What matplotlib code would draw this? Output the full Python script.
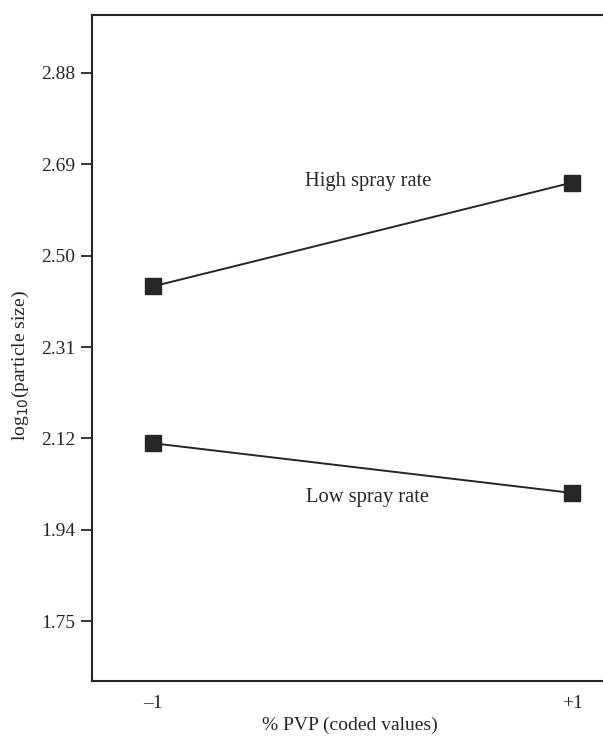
import numpy as np
import matplotlib
matplotlib.use("Agg")
import matplotlib.pyplot as plt
from matplotlib.ticker import FixedLocator, FixedFormatter

# Data
pvp = [-1, 1]
high_rate = [2.437, 2.650]
low_rate = [2.115, 2.013]

yticks = [1.75, 1.9375, 2.125, 2.3125, 2.5, 2.6875, 2.875]
ytick_labels = ["1.75", "1.94", "2.12", "2.31", "2.50", "2.69", "2.88"]
xtick_labels = ["\u20131", "+1"]

plt.rcParams["font.family"] = ["Liberation Serif", "DejaVu Serif"]
plt.rcParams["font.size"] = 14

fig = plt.figure(figsize=(6.03, 7.37), dpi=100)
ax = fig.add_axes([92 / 603, 1 - 681 / 737, 1 - 92 / 603, (681 - 15) / 737])

ink = "#262626"
ax.plot(pvp, high_rate, ls="-", color=ink, lw=1.4, marker="s", ms=11.5, mec=ink, mfc=ink)
ax.plot(pvp, low_rate, ls="-", color=ink, lw=1.4, marker="s", ms=11.5, mec=ink, mfc=ink)

ax.text(0.026, 2.652, "High spray rate", ha="center", va="center", color=ink, fontsize=14.8)
ax.text(0.026, 2.004, "Low spray rate", ha="center", va="center", color=ink, fontsize=14.8)

ax.set_xlim(-1.291, 1.148)
ax.set_ylim(1.627, 2.994)

ax.yaxis.set_major_locator(FixedLocator(yticks))
ax.yaxis.set_major_formatter(FixedFormatter(ytick_labels))
ax.set_xticks(pvp)
ax.set_xticklabels(xtick_labels)
ax.tick_params(axis="y", direction="out", length=8, width=1.3, color=ink, labelcolor=ink, pad=4)
ax.tick_params(axis="x", length=0, pad=10, labelcolor=ink)

for side in ["left", "top", "bottom"]:
    ax.spines[side].set_linewidth(1.5)
    ax.spines[side].set_color(ink)
ax.spines["right"].set_visible(False)

ax.set_ylabel("log$_{10}$(particle size)", color=ink, va="center")
ax.yaxis.set_label_coords(-0.141, 0.474)
ax.set_xlabel("% PVP (coded values)", color=ink, va="center")
ax.xaxis.set_label_coords(0.505, -0.066)

fig.savefig("out.png", dpi=100)
